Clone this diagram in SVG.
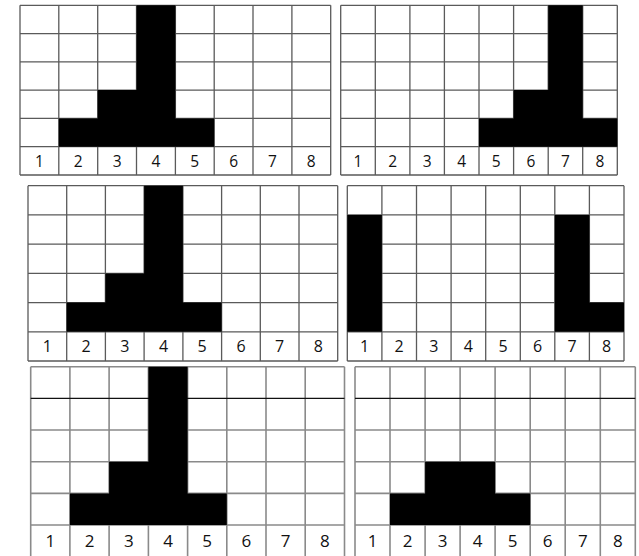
<svg xmlns="http://www.w3.org/2000/svg" width="639" height="556" viewBox="0 0 639 556">
<style>
.bg{fill:#ffffff}
.ln{fill:none;stroke:#5a5a5a;stroke-width:1.3}
.ln2{fill:none;stroke:#8a8a8a;stroke-width:1.6}
.dk{fill:none;stroke:#111;stroke-width:1.3}
.f{fill:#000}
.t{font-family:"Open Sans","Noto Sans","DejaVu Sans",sans-serif;fill:#111;text-anchor:middle}
.s1{font-size:15.5px}
.s2{font-size:16px}
.s3{font-size:17px}
</style>
<rect class="bg" x="0" y="0" width="639" height="556"/>

<g id="grid1">
<path class="ln" d="M20,5.3H330.7M20,33.6H330.7M20,61.9H330.7M20,90.1H330.7M20,118.4H330.7M20,146.7H330.7M20,175H330.7M20,5.3V175M58.8,5.3V175M97.7,5.3V175M136.5,5.3V175M175.4,5.3V175M214.2,5.3V175M253,5.3V175M291.9,5.3V175M330.7,5.3V175"/>
<path class="f" d="M136.5,5.3H175.4V118.4H214.2V146.7H58.8V118.4H97.7V90.1H136.5Z"/>
<g class="t s1">
<text x="39.4" y="166.5">1</text><text x="78.3" y="166.5">2</text><text x="117.1" y="166.5">3</text><text x="156" y="166.5">4</text><text x="194.8" y="166.5">5</text><text x="233.6" y="166.5">6</text><text x="272.5" y="166.5">7</text><text x="311.3" y="166.5">8</text>
</g>
</g>

<g id="grid2">
<path class="ln" d="M340.7,5.3H617.3M340.7,33.6H617.3M340.7,61.9H617.3M340.7,90.1H617.3M340.7,118.4H617.3M340.7,146.7H617.3M340.7,175H617.3M340.7,5.3V175M375.3,5.3V175M409.9,5.3V175M444.4,5.3V175M479,5.3V175M513.6,5.3V175M548.2,5.3V175M582.7,5.3V175M617.3,5.3V175"/>
<path class="f" d="M548.2,5.3H582.7V118.4H617.3V146.7H479V118.4H513.6V90.1H548.2Z"/>
<g class="t s1">
<text x="358" y="166.5">1</text><text x="392.6" y="166.5">2</text><text x="427.1" y="166.5">3</text><text x="461.7" y="166.5">4</text><text x="496.3" y="166.5">5</text><text x="530.9" y="166.5">6</text><text x="565.4" y="166.5">7</text><text x="600" y="166.5">8</text>
</g>
</g>

<g id="grid3">
<path class="ln" d="M28,185.7H337.7M28,214.9H337.7M28,244.1H337.7M28,273.4H337.7M28,302.6H337.7M28,331.8H337.7M28,361H337.7M28,185.7V361M66.7,185.7V361M105.4,185.7V361M144.1,185.7V361M182.9,185.7V361M221.6,185.7V361M260.3,185.7V361M299,185.7V361M337.7,185.7V361"/>
<path class="f" d="M144.1,185.7H182.9V302.6H221.6V331.8H66.7V302.6H105.4V273.4H144.1Z"/>
<g class="t s2">
<text x="47.4" y="352">1</text><text x="86.1" y="352">2</text><text x="124.8" y="352">3</text><text x="163.5" y="352">4</text><text x="202.2" y="352">5</text><text x="241" y="352">6</text><text x="279.7" y="352">7</text><text x="318.4" y="352">8</text>
</g>
</g>

<g id="grid4">
<path class="ln" d="M347.3,185.7H624M347.3,214.9H624M347.3,244.1H624M347.3,273.4H624M347.3,302.6H624M347.3,331.8H624M347.3,361H624M347.3,185.7V361M381.9,185.7V361M416.5,185.7V361M451.1,185.7V361M485.7,185.7V361M520.3,185.7V361M554.8,185.7V361M589.4,185.7V361M624,185.7V361"/>
<path class="f" d="M347.3,214.9H381.9V331.8H347.3Z M554.8,214.9H589.4V302.6H624V331.8H554.8Z"/>
<g class="t s2">
<text x="364.6" y="352">1</text><text x="399.2" y="352">2</text><text x="433.8" y="352">3</text><text x="468.4" y="352">4</text><text x="503" y="352">5</text><text x="537.6" y="352">6</text><text x="572.1" y="352">7</text><text x="606.7" y="352">8</text>
</g>
</g>

<g id="grid5">
<path class="ln2" d="M30.7,366.7H344.5M30.7,430H344.5M30.7,461.7H344.5M30.7,493.4H344.5M30.7,525H344.5M30.7,366.7V556M69.9,366.7V556M109.1,366.7V556M148.4,366.7V556M187.6,366.7V556M226.8,366.7V556M266,366.7V556M305.2,366.7V556M344.5,366.7V556"/>
<path class="dk" d="M30.7,398.4H344.5"/>
<path class="f" d="M148.4,366.7H187.6V493.4H226.8V525H69.9V493.4H109.1V461.7H148.4Z"/>
<g class="t s3">
<text x="50.3" y="547">1</text><text x="89.5" y="547">2</text><text x="128.8" y="547">3</text><text x="168" y="547">4</text><text x="207.2" y="547">5</text><text x="246.4" y="547">6</text><text x="285.6" y="547">7</text><text x="324.9" y="547">8</text>
</g>
</g>

<g id="grid6">
<path class="ln2" d="M355,366.7H635.3M355,430H635.3M355,461.7H635.3M355,493.4H635.3M355,525H635.3M355,366.7V556M390,366.7V556M425.1,366.7V556M460.1,366.7V556M495.1,366.7V556M530.2,366.7V556M565.2,366.7V556M600.3,366.7V556M635.3,366.7V556"/>
<path class="dk" d="M355,398.4H635.3"/>
<path class="f" d="M425.1,461.7H495.1V493.4H530.2V525H390V493.4H425.1Z"/>
<g class="t s3">
<text x="372.5" y="547">1</text><text x="407.5" y="547">2</text><text x="442.6" y="547">3</text><text x="477.6" y="547">4</text><text x="512.7" y="547">5</text><text x="547.7" y="547">6</text><text x="582.8" y="547">7</text><text x="617.8" y="547">8</text>
</g>
</g>
</svg>
